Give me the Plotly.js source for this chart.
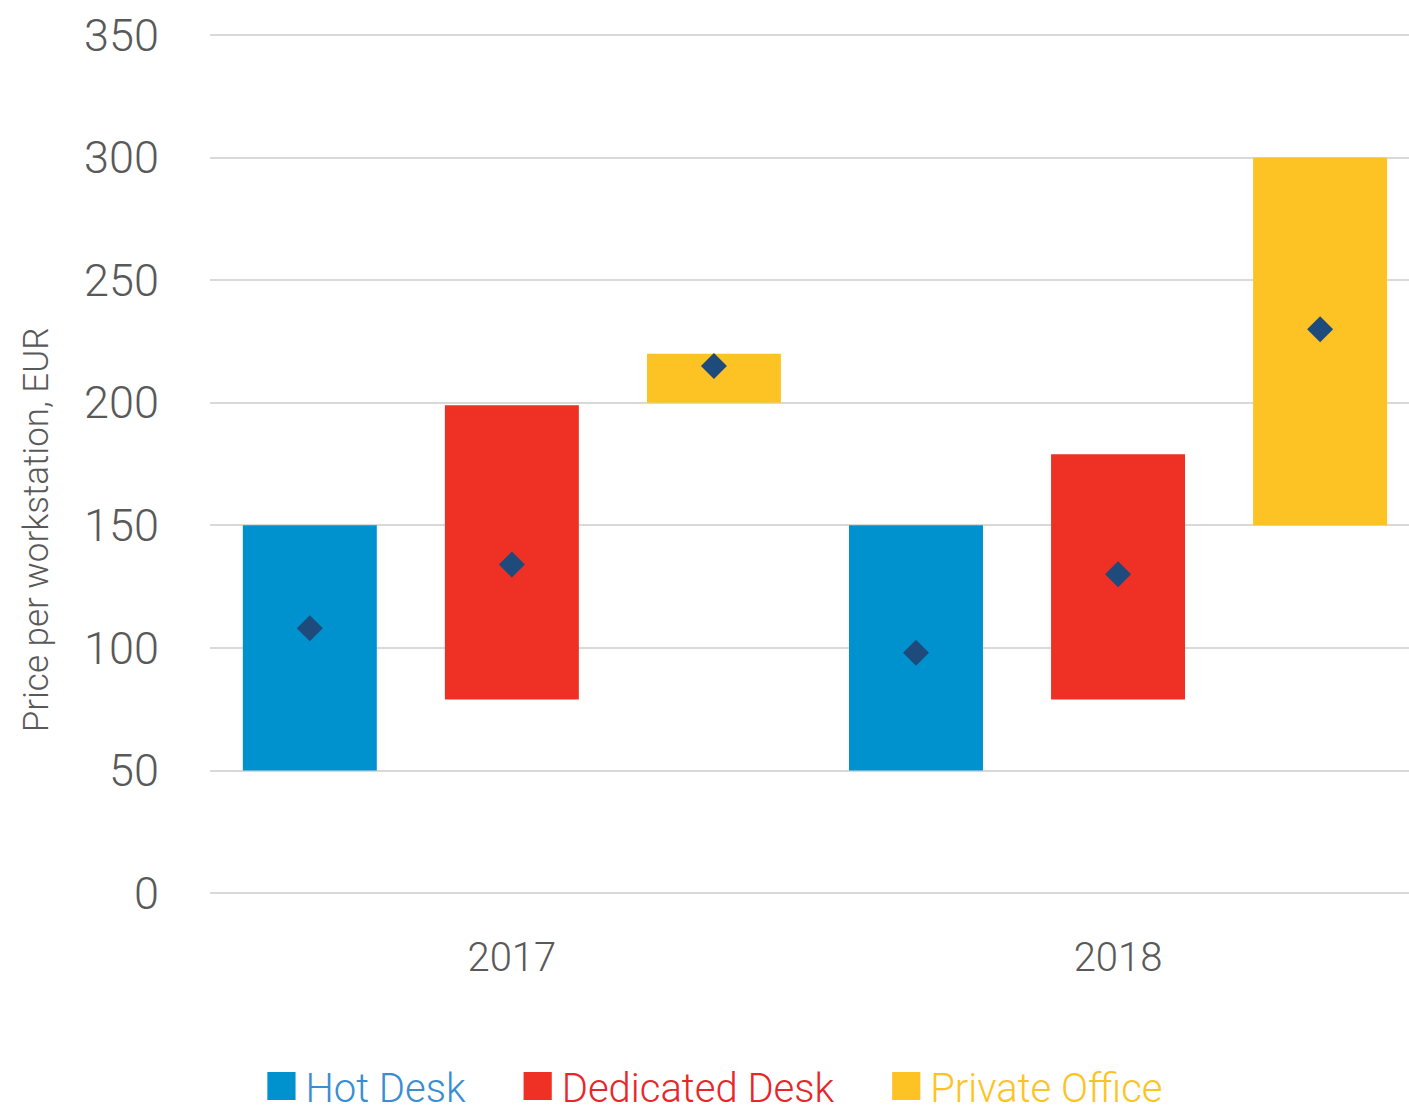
<!DOCTYPE html>
<html>
<head>
<meta charset="utf-8">
<script src="https://cdn.plot.ly/plotly-3.0.1.min.js"></script>
<style>html,body{margin:0;padding:0;background:#fff;}</style>
</head>
<body>
<div id="chart" style="width:1409px;height:1111px;"></div>
<script>
const years = ['2017', '2018'];
const seriesNames = ['Hot Desk', 'Dedicated Desk', 'Private Office'];
const hotDeskLow = [50, 50];
const hotDeskHigh = [150, 150];
const hotDeskAvg = [108, 98];
const dedicatedLow = [79, 79];
const dedicatedHigh = [199, 179];
const dedicatedAvg = [134, 130];
const privateLow = [200, 150];
const privateHigh = [220, 300];
const privateAvg = [215, 230];
const yTicks = [0, 50, 100, 150, 200, 250, 300, 350];
const yTitle = 'Price per workstation, EUR';

const barColors = ['#0092cf', '#ee3124', '#fdc325'];
const legendTextColors = ['#3a8dd3', '#e8262a', '#fdc325'];
const lows = [hotDeskLow, dedicatedLow, privateLow];
const highs = [hotDeskHigh, dedicatedHigh, privateHigh];
const avgs = [hotDeskAvg, dedicatedAvg, privateAvg];
const pad = '&nbsp;&nbsp;&nbsp;&nbsp;&#8202;';

const traces = [];
seriesNames.forEach((name, i) => {
  traces.push({
    type: 'bar',
    x: years,
    base: lows[i],
    y: highs[i].map((h, k) => h - lows[i][k]),
    name: '<span style="color:' + legendTextColors[i] + '">' + name + '</span>' + (i < seriesNames.length - 1 ? pad : ''),
    marker: {color: barColors[i], line: {width: 0}},
    offsetgroup: 'g' + i,
    hoverinfo: 'skip'
  });
});
seriesNames.forEach((name, i) => {
  traces.push({
    type: 'scatter',
    mode: 'markers',
    x: years,
    y: avgs[i],
    marker: {symbol: 'diamond', size: 20, color: '#1f4a7c'},
    offsetgroup: 'g' + i,
    showlegend: false,
    hoverinfo: 'skip'
  });
});

const layout = {
  width: 1409,
  height: 1111,
  margin: {l: 210, r: 0, t: 30, b: 213, autoexpand: false},
  paper_bgcolor: '#ffffff',
  plot_bgcolor: '#ffffff',
  font: {family: 'Roboto, "DejaVu Sans", sans-serif', color: '#595959', weight: 300},
  barmode: 'group',
  bargap: 0,
  bargroupgap: 0.337,
  scattermode: 'group',
  scattergap: 0,
  showlegend: true,
  legend: {
    orientation: 'h',
    xref: 'container', yref: 'container',
    x: 0.506, xanchor: 'center',
    y: 0.0225, yanchor: 'middle',
    font: {size: 40, family: 'Roboto, sans-serif', weight: 300},
    itemwidth: 38,
    tracegroupgap: 0
  },
  annotations: [{
    text: yTitle,
    textangle: -90,
    xref: 'paper', x: -0.145, xanchor: 'center',
    yref: 'y', y: 148, yanchor: 'middle',
    showarrow: false,
    font: {size: 35, color: '#595959', family: 'Roboto, sans-serif', weight: 300}
  }],
  xaxis: {
    type: 'category',
    range: [-0.498, 1.48],
    showgrid: false,
    zeroline: false,
    showline: false,
    ticks: '',
    tickfont: {size: 40, color: '#595959'},
    ticklabelstandoff: 32,
    fixedrange: true
  },
  yaxis: {
    range: [-2, 352],
    tickvals: yTicks,
    ticktext: yTicks.map(String),
    showgrid: true,
    gridcolor: '#d9d9d9',
    gridwidth: 2,
    zeroline: false,
    showline: false,
    ticks: '',
    tickfont: {size: 45, color: '#595959'},
    ticklabelstandoff: 50,
    fixedrange: true
  }
};

Plotly.newPlot('chart', traces, layout, {displayModeBar: false, staticPlot: true}).then(() => {
  document.querySelectorAll('#chart .legend .legendpoints path').forEach(p => {
    const t = p.getAttribute('transform') || '';
    p.setAttribute('transform', t + ' scale(2.35)');
  });
});
</script>
</body>
</html>
